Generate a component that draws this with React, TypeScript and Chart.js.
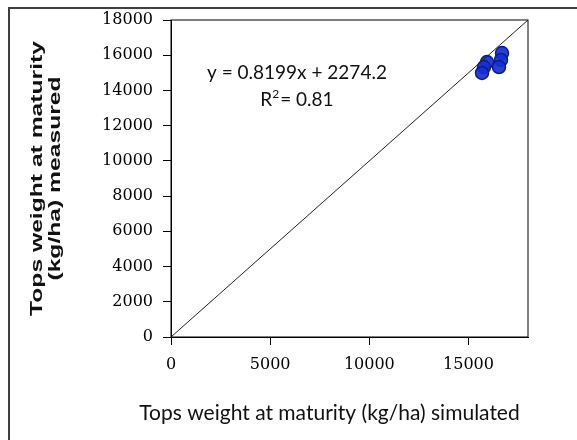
import React, { useEffect, useRef } from "react";
import { Chart, registerables } from "chart.js";

Chart.register(...registerables);

const simulated = [15933, 15782, 15681, 16689, 16639, 16538];
const measured = [15615, 15331, 14991, 16126, 15729, 15331];
const oneToOneX = [0, 18000];
const oneToOneY = [0, 18000];
const xTickValues = [0, 5000, 10000, 15000];
const yTickValues = [0, 2000, 4000, 6000, 8000, 10000, 12000, 14000, 16000, 18000];
const equationText = "y = 0.8199x + 2274.2";
const r2Value = "0.81";
const equationAnchor = { x: 6350, y: 15000 };
const r2Anchor = { x: 6350, y: 13450 };
const xTitle = "Tops weight at maturity (kg/ha) simulated";
const yTitle = ["Tops weight at maturity", "(kg/ha) measured"];

export default function App() {
  const ref = useRef<HTMLCanvasElement | null>(null);
  useEffect(() => {
    document.body.style.margin = "0";
    const canvas = ref.current!;
    const framePlugin = {
      id: "frame",
      beforeDraw(chart: any) {
        const ctx = chart.ctx;
        ctx.save();
        ctx.fillStyle = "#ffffff";
        ctx.fillRect(0, 0, chart.width, chart.height);
        ctx.strokeStyle = "#404040";
        ctx.lineWidth = 2;
        ctx.beginPath();
        ctx.moveTo(9, 440);
        ctx.lineTo(9, 8);
        ctx.lineTo(577, 8);
        ctx.stroke();
        ctx.restore();
      },
      afterDatasetsDraw(chart: any) {
        const ctx = chart.ctx;
        const xs = chart.scales.x;
        const ys = chart.scales.y;
        const a = chart.chartArea;
        ctx.save();
        ctx.strokeStyle = "#000";
        ctx.lineWidth = 1;
        ctx.strokeRect(a.left, a.top, a.right - a.left, a.bottom - a.top);
        // y-axis title (two lines, rotated)
        ctx.save();
        ctx.translate(0, (a.top + a.bottom) / 2);
        ctx.rotate(-Math.PI / 2);
        ctx.scale(1.45, 1);
        ctx.fillStyle = "#111";
        ctx.font = "bold 17px 'Liberation Sans'";
        ctx.textAlign = "center";
        ctx.textBaseline = "middle";
        ctx.fillText(yTitle[0], 0, 37);
        ctx.fillText(yTitle[1], 0, 55);
        ctx.restore();
        // x-axis title
        ctx.fillStyle = "#111";
        ctx.font = "21px Lato";
        ctx.textAlign = "center";
        ctx.textBaseline = "middle";
        ctx.fillText(xTitle, a.left + (a.right - a.left) / 2 - 20, 413);
        // equation
        ctx.font = "19px Lato";
        ctx.fillText(equationText, xs.getPixelForValue(equationAnchor.x), ys.getPixelForValue(equationAnchor.y));
        const cx = xs.getPixelForValue(r2Anchor.x);
        const cy = ys.getPixelForValue(r2Anchor.y);
        const p1 = "R";
        const p3 = "= " + r2Value;
        ctx.font = "19px Lato";
        const w1 = ctx.measureText(p1).width;
        const w3 = ctx.measureText(p3).width;
        ctx.font = "12px Lato";
        const w2 = ctx.measureText("2").width + 1;
        const total = w1 + w2 + w3;
        const sx = cx - total / 2;
        ctx.textAlign = "left";
        ctx.font = "19px Lato";
        ctx.fillText(p1, sx, cy);
        ctx.font = "12px Lato";
        ctx.fillText("2", sx + w1, cy - 6);
        ctx.font = "19px Lato";
        ctx.fillText(p3, sx + w1 + w2, cy);
        ctx.restore();
      },
    };
    const chart = new Chart(canvas, {
      type: "scatter",
      data: {
        datasets: [
          {
            type: "line",
            data: oneToOneX.map((x, i) => ({ x, y: oneToOneY[i] })),
            borderColor: "#222",
            borderWidth: 1,
            pointRadius: 0,
            fill: false,
          },
          {
            type: "scatter",
            data: simulated.map((x, i) => ({ x, y: measured[i] })),
            backgroundColor: "rgba(20,48,210,0.92)",
            borderColor: "#0a1c90",
            borderWidth: 1.5,
            pointRadius: 6.5,
          },
        ],
      },
      plugins: [framePlugin],
      options: {
        animation: false,
        responsive: false,
        layout: { padding: { left: 0, top: 20, right: 49, bottom: 0 } },
        plugins: { legend: { display: false }, tooltip: { enabled: false } },
        scales: {
          x: {
            type: "linear",
            min: 0,
            max: 18000,
            afterFit(s: any) {
              s.height = 103;
            },
            afterBuildTicks(s: any) {
              s.ticks = xTickValues.map((v) => ({ value: v }));
            },
            ticks: {
              color: "#000",
              padding: 10,
              font: { family: "DejaVu Serif", size: 16 },
              callback: (v: any) => String(v),
            },
            grid: { drawOnChartArea: false, color: "#000", tickLength: 8 },
            border: { color: "#000" },
            title: { display: false },
          },
          y: {
            type: "linear",
            min: 0,
            max: 18000,
            afterFit(s: any) {
              s.width = 171;
            },
            afterBuildTicks(s: any) {
              s.ticks = yTickValues.map((v) => ({ value: v }));
            },
            ticks: {
              color: "#000",
              padding: 10,
              font: { family: "DejaVu Serif", size: 16 },
              callback: (v: any) => String(v),
            },
            grid: { drawOnChartArea: false, color: "#000", tickLength: 8 },
            border: { color: "#000" },
            title: { display: false },
          },
        },
      },
    });
    return () => chart.destroy();
  }, []);
  return <canvas ref={ref} width={577} height={440} style={{ display: "block" }} />;
}
